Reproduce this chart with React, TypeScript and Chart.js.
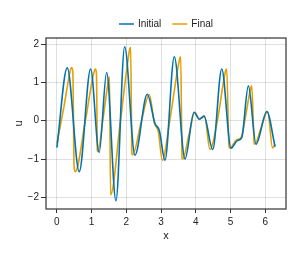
import React, { useEffect, useRef } from "react";
import { Chart, registerables } from "chart.js";

Chart.register(...registerables);

// Initial curve (blue)
const xInitial = [0, 0.297, 0.643, 0.971, 1.216, 1.432, 1.700, 1.951, 2.248, 2.602, 2.824, 2.948, 3.112, 3.380, 3.689, 3.948, 4.101, 4.236, 4.487, 4.746, 5.014, 5.196, 5.323, 5.513, 5.735, 6.043, 6.283];
const yInitial = [-0.70, 1.38, -1.33, 1.35, -0.83, 1.26, -2.09, 1.93, -0.90, 0.69, -0.07, -0.25, -1.03, 1.67, -1.00, 0.22, 0.04, 0.12, -0.75, 1.35, -0.72, -0.52, -0.44, 0.91, -0.61, 0.24, -0.68];

// Final curve (orange)
const xFinal = [0, 0.21, 0.40, 0.43, 0.46, 0.495, 0.525, 0.82, 1.09, 1.115, 1.14, 1.165, 1.18, 1.32, 1.50, 1.515, 1.545, 1.83, 2.10, 2.124, 2.16, 2.18, 2.43, 2.66, 2.81, 2.92, 3.035, 3.25, 3.54, 3.565, 3.605, 3.625, 3.80, 3.97, 4.11, 4.25, 4.409, 4.62, 4.86, 4.89, 4.955, 4.98, 5.17, 5.31, 5.41, 5.59, 5.611, 5.68, 5.70, 5.88, 6.07, 6.21, 6.283];
const yFinal = [-0.59, 0.40, 1.36, 1.39, 1.25, -1.20, -1.33, 0.0, 1.33, 1.35, 1.20, -0.78, -0.80, 0.0, 1.12, 1.15, -1.94, 0.0, 1.88, 1.92, -0.87, -0.89, -0.02, 0.68, -0.07, -0.28, -1.03, 0.0, 1.63, 1.67, -0.98, -1.00, -0.38, 0.22, 0.04, 0.12, -0.75, 0.0, 1.31, 1.35, -0.66, -0.72, -0.50, -0.43, 0.0, 0.88, 0.91, -0.57, -0.61, -0.18, 0.24, -0.71, -0.61];

const xTicks = [0, 1, 2, 3, 4, 5, 6];
const yTicks = [-2, -1, 0, 1, 2];
const seriesNames = ["Initial", "Final"];
const seriesColors = ["#0072B2", "#E69F00"];

const FONT = "'Liberation Sans', Arial, sans-serif";

const framePlugin = {
  id: "frame",
  afterDraw(chart: any) {
    const { ctx, chartArea } = chart;
    ctx.save();
    ctx.strokeStyle = "#333333";
    ctx.lineWidth = 1.2;
    ctx.strokeRect(chartArea.left, chartArea.top, chartArea.right - chartArea.left, chartArea.bottom - chartArea.top);
    // legend
    ctx.font = `10px ${FONT}`;
    ctx.textBaseline = "middle";
    ctx.textAlign = "left";
    const y = 24;
    const lineLen = 15;
    const gap = 4;
    const itemGap = 11;
    const widths = seriesNames.map((n) => lineLen + gap + ctx.measureText(n).width);
    const total = widths.reduce((a, b) => a + b, 0) + itemGap * (seriesNames.length - 1);
    let x = (chartArea.left + chartArea.right) / 2 - total / 2;
    seriesNames.forEach((n, i) => {
      ctx.strokeStyle = seriesColors[i];
      ctx.lineWidth = 1.5;
      ctx.beginPath();
      ctx.moveTo(x, y);
      ctx.lineTo(x + lineLen, y);
      ctx.stroke();
      ctx.fillStyle = "#222";
      ctx.fillText(n, x + lineLen + gap, y + 0.5);
      x += widths[i] + itemGap;
    });
    ctx.restore();
  },
};

const minusFmt = (v: number) => String(v).replace("-", "\u2212");

export default function App() {
  const ref = useRef<HTMLCanvasElement | null>(null);
  useEffect(() => {
    document.body.style.margin = "0";
    const chart = new Chart(ref.current as HTMLCanvasElement, {
      type: "line",
      data: {
        datasets: [
          {
            label: seriesNames[0],
            data: xInitial.map((x, i) => ({ x, y: yInitial[i] })),
            borderColor: seriesColors[0],
            borderWidth: 1.6,
            pointRadius: 0,
            cubicInterpolationMode: "monotone",
            fill: false,
          },
          {
            label: seriesNames[1],
            data: xFinal.map((x, i) => ({ x, y: yFinal[i] })),
            borderColor: seriesColors[1],
            borderWidth: 1.6,
            pointRadius: 0,
            cubicInterpolationMode: "monotone",
            fill: false,
          },
        ],
      },
      options: {
        animation: false,
        responsive: false,
        layout: { padding: { top: 38, right: 12, bottom: 0, left: 0 } },
        plugins: { legend: { display: false }, tooltip: { enabled: false } },
        scales: {
          x: {
            type: "linear",
            min: -0.314,
            max: 6.597,
            afterBuildTicks: (axis: any) => {
              axis.ticks = xTicks.map((v) => ({ value: v }));
            },
            afterFit: (scale: any) => {
              scale.height = 44;
            },
            grid: { color: "rgba(0,0,0,0.12)", tickColor: "#333", tickLength: 4, drawTicks: true },
            border: { display: false },
            ticks: { font: { size: 10, family: FONT }, color: "#222", padding: 3, maxRotation: 0, callback: (v: any) => minusFmt(v) },
            title: { display: true, text: "x", font: { size: 11, family: FONT }, color: "#222", padding: { top: 0, bottom: 10 } },
          },
          y: {
            type: "linear",
            min: -2.305,
            max: 2.16,
            afterBuildTicks: (axis: any) => {
              axis.ticks = yTicks.map((v) => ({ value: v }));
            },
            afterFit: (scale: any) => {
              scale.width = 46;
            },
            grid: { color: "rgba(0,0,0,0.12)", tickColor: "#333", tickLength: 5, drawTicks: true },
            border: { display: false },
            ticks: { font: { size: 10, family: FONT }, color: "#222", padding: 2, callback: (v: any) => minusFmt(v) },
            title: { display: true, text: "u", font: { size: 11, family: FONT }, color: "#222", padding: { top: 12, bottom: 0 } },
          },
        },
      },
      plugins: [framePlugin],
    } as any);
    return () => chart.destroy();
  }, []);
  return (
    <div style={{ position: "absolute", left: 0, top: 0, width: 298, height: 253, background: "#fff" }}>
      <canvas ref={ref} width={298} height={253} />
    </div>
  );
}
